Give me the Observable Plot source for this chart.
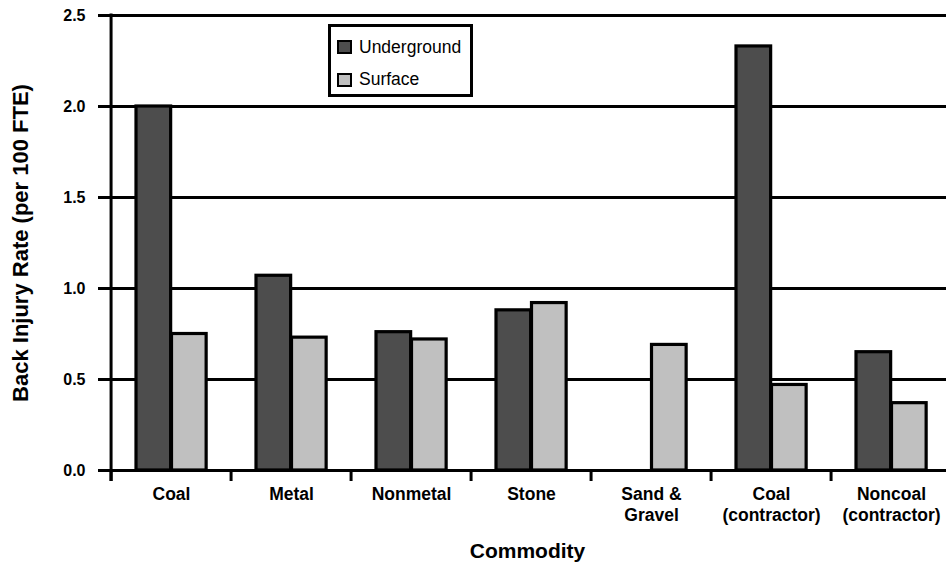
<!DOCTYPE html>
<html>
<head>
<meta charset="utf-8">
<script src="https://cdn.jsdelivr.net/npm/d3@7"></script>
<script src="https://cdn.jsdelivr.net/npm/@observablehq/plot@0.6"></script>
<style>
  body { margin: 0; background: #fff; font-family: "Liberation Sans", Arial, sans-serif; }
  #wrap { position: relative; width: 946px; height: 565px; overflow: hidden; }
  .legend { position: absolute; left: 328px; top: 24px; width: 145px; height: 73px; border: 3px solid #000; box-sizing: border-box; background: #fff; }
  .sw { position: absolute; width: 15px; height: 14px; border: 2px solid #000; box-sizing: border-box; }
  .lt { position: absolute; font-size: 17.5px; line-height: 17.5px; color: #000; white-space: nowrap; }
</style>
</head>
<body>
<div id="wrap"></div>
<script>
const commodities = ["Coal", "Metal", "Nonmetal", "Stone", "Sand & Gravel", "Coal (contractor)", "Noncoal (contractor)"];
const tickLabels = ["Coal", "Metal", "Nonmetal", "Stone", "Sand &\nGravel", "Coal\n(contractor)", "Noncoal\n(contractor)"];
const underground = [2.0, 1.07, 0.76, 0.88, null, 2.33, 0.65];
const surface = [0.75, 0.73, 0.72, 0.92, 0.69, 0.47, 0.37];
const yTicks = [0, 0.5, 1.0, 1.5, 2.0, 2.5];
const seriesNames = ["Underground", "Surface"];
const seriesColors = ["#4d4d4d", "#c0c0c0"];

const data = commodities.map((c, i) => ({commodity: c, label: tickLabels[i], underground: underground[i], surface: surface[i]}));

const xRange = [108, 954];
const band = (xRange[1] - xRange[0]) / commodities.length;
const outer = 25, mid = 60.5, end = 96;

const chart = Plot.plot({
  width: 946,
  height: 565,
  marginTop: 15,
  marginBottom: 95,
  marginLeft: 108,
  marginRight: 0,
  style: {fontFamily: "'Liberation Sans', Arial, sans-serif", color: "#000", background: "#fff", overflow: "visible"},
  x: {domain: commodities, range: xRange, padding: 0, axis: null},
  y: {domain: [0, 2.5]},
  marks: [
    Plot.ruleY(yTicks, {stroke: "#000", strokeWidth: 3}),
    Plot.barY(data, {x: "commodity", y: "underground", fill: seriesColors[0], stroke: "#000", strokeWidth: 3.2, insetLeft: outer, insetRight: band - mid}),
    Plot.barY(data, {x: "commodity", y: "surface", fill: seriesColors[1], stroke: "#000", strokeWidth: 3.2, insetLeft: mid, insetRight: band - end}),
    Plot.ruleX(commodities, {x: d => d, dx: -band / 2, y1: 0, y2: 0, insetBottom: -11, stroke: "#000", strokeWidth: 3}),
    Plot.ruleX([commodities[0]], {x: d => d, dx: -band / 2, y1: 2.5, y2: 0, insetTop: -1.5, insetBottom: -11, stroke: "#000", strokeWidth: 3}),
    Plot.axisY({ticks: yTicks, tickFormat: d3.format(".1f"), tickSize: 10, tickPadding: 13, stroke: "#000", strokeWidth: 3, fill: "#000", fontSize: 16, fontWeight: "bold", label: null}),
    Plot.text(data, {x: "commodity", text: "label", frameAnchor: "bottom", lineAnchor: "top", dy: 15.6, lineHeight: 1.15, fontSize: 17.5, fontWeight: "bold", fill: "#000"}),
    Plot.text(["Commodity"], {frameAnchor: "bottom", textAnchor: "middle", lineAnchor: "top", dy: 72.4, fontSize: 21, fontWeight: "bold", fill: "#000"}),
    Plot.text(["Back Injury Rate (per 100 FTE)"], {frameAnchor: "left", textAnchor: "middle", lineAnchor: "middle", rotate: -90, dx: -88, fontSize: 22, fontWeight: "bold", fill: "#000"})
  ]
});

const wrap = document.getElementById("wrap");
wrap.appendChild(chart);

const legend = document.createElement("div");
legend.className = "legend";
const rows = [{swTop: 40, txtTop: 38.5}, {swTop: 73, txtTop: 70.7}];
seriesNames.forEach((name, i) => {
  const sw = document.createElement("div");
  sw.className = "sw";
  sw.style.left = (337 - 328 - 3) + "px";
  sw.style.top = (rows[i].swTop - 24 - 3) + "px";
  sw.style.background = seriesColors[i];
  legend.appendChild(sw);
  const t = document.createElement("div");
  t.className = "lt";
  t.style.left = (359 - 328 - 3) + "px";
  t.style.top = (rows[i].txtTop - 24 - 3) + "px";
  t.textContent = name;
  legend.appendChild(t);
});
wrap.appendChild(legend);
</script>
</body>
</html>
